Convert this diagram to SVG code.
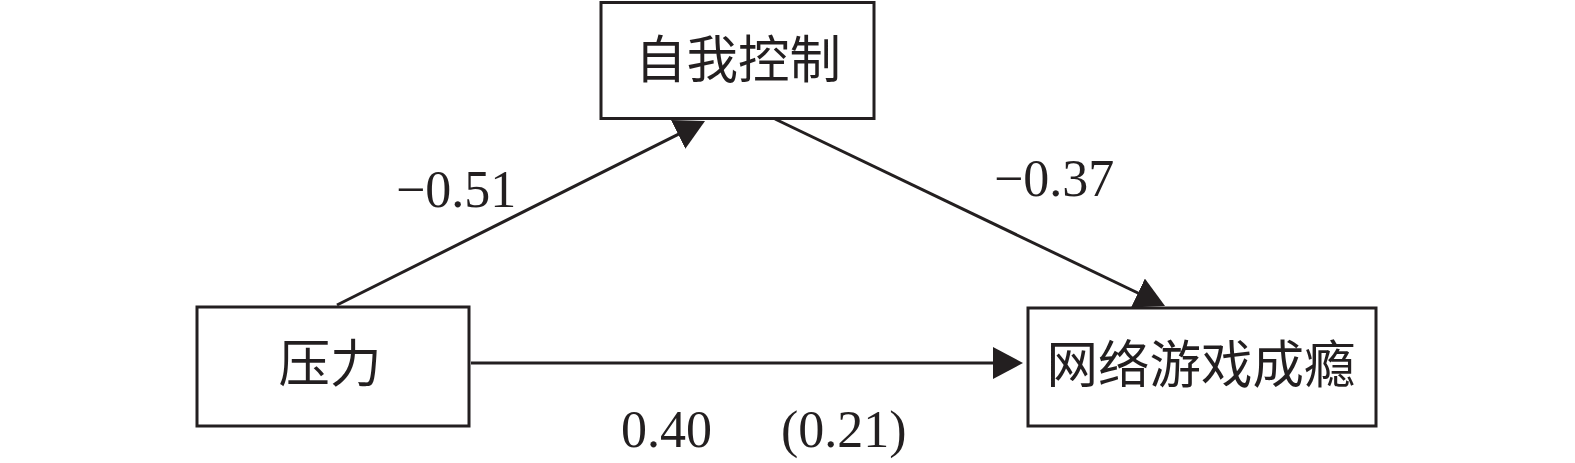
<svg xmlns="http://www.w3.org/2000/svg" width="1575" height="463" viewBox="0 0 1575 463">
<style>
.box{fill:#fff;stroke:#231f20;stroke-width:3}
.lbl{font-family:"Liberation Serif","Noto Sans CJK SC",serif;font-size:51.5px;fill:#231f20;text-anchor:middle}
.num{font-family:"Liberation Serif",serif;font-size:52px;fill:#231f20}
.edge{stroke:#231f20;stroke-width:3;fill:none;marker-end:url(#arr)}
</style>
<defs>
<marker id="arr" markerUnits="userSpaceOnUse" viewBox="0 0 30 32" refX="15" refY="16" markerWidth="30" markerHeight="32" orient="auto">
<path d="M0,0 L30,16 L0,32 Z" fill="#231f20"/>
</marker>
</defs>
<rect width="1575" height="463" fill="#fff"/>
<g id="connectors">
<line class="edge" x1="337" y1="305" x2="691.6" y2="127.7"/>
<line class="edge" x1="775" y1="119" x2="1151.5" y2="299.5"/>
<line class="edge" x1="471" y1="363" x2="1008" y2="363"/>
<text class="num" x="396" y="207">−0.51</text>
<text class="num" x="994" y="196">−0.37</text>
<text class="num" x="621" y="447">0.40</text>
<text class="num" x="781" y="447">(0.21)</text>
</g>
<g id="node-self-control">
<rect class="box" x="601" y="2.5" width="273" height="116"/>
<text class="lbl" x="738" y="78">自我控制</text>
</g>
<g id="node-stress">
<rect class="box" x="197" y="307" width="272" height="119"/>
<text class="lbl" x="330" y="382">压力</text>
</g>
<g id="node-igd">
<rect class="box" x="1028" y="308" width="348" height="118"/>
<text class="lbl" x="1201" y="383">网络游戏成瘾</text>
</g>
</svg>
